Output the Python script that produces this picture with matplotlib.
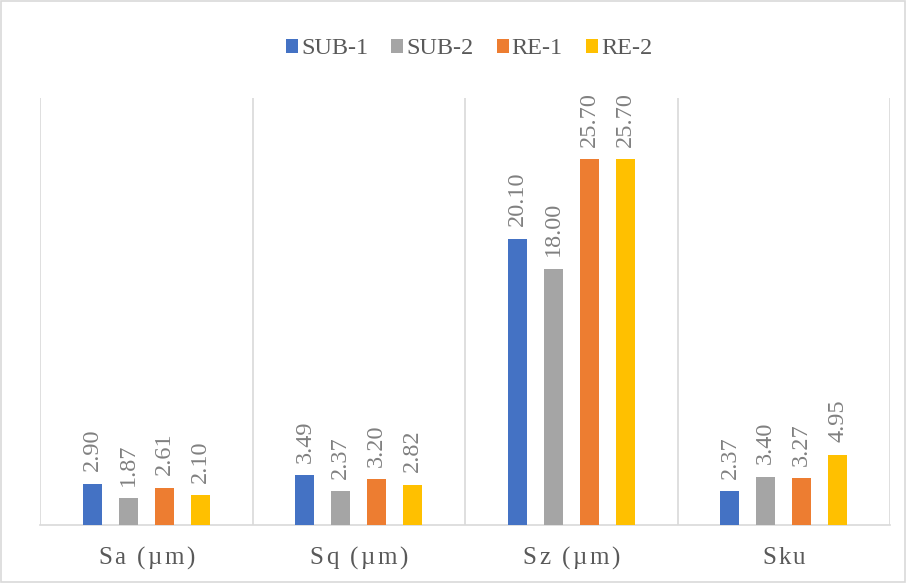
import matplotlib
matplotlib.use("Agg")
import matplotlib.pyplot as plt
import matplotlib.transforms as mtransforms
from matplotlib.patches import Rectangle
import numpy as np

categories = ["Sa (µm)", "Sq (µm)", "Sz (µm)", "Sku"]
series_names = ["SUB-1", "SUB-2", "RE-1", "RE-2"]
sub1 = [2.90, 3.49, 20.10, 2.37]
sub2 = [1.87, 2.37, 18.00, 3.40]
re1 = [2.61, 3.20, 25.70, 3.27]
re2 = [2.10, 2.82, 25.70, 4.95]
colors = ["#4472C4", "#A5A5A5", "#ED7D31", "#FFC000"]

plt.rcParams['font.family'] = ['Liberation Serif', 'DejaVu Serif']

fig = plt.figure(figsize=(9.06, 5.83), dpi=100)
ax = fig.add_axes([40/906, 1-525/583, 850/906, 427/583])

n = len(categories)
x = np.arange(n)
pitch = 0.169
width = 0.089
offsets = (np.arange(4) - 1.5) * pitch
data = [sub1, sub2, re1, re2]

for i, (vals, name, c) in enumerate(zip(data, series_names, colors)):
    bars = ax.bar(x + offsets[i], vals, width, color=c, label=name, zorder=3)
    for b, v in zip(bars, vals):
        ax.annotate(f"{v:.2f}", (b.get_x() + b.get_width()/2, v),
                    xytext=(0, 9), textcoords="offset points",
                    rotation=90, ha="center", va="bottom",
                    fontsize=17.5, color="#808080")

ax.set_xlim(-0.5, n - 0.5)
ax.set_ylim(0, 30)
ax.set_yticks([])
ax.set_xticks([])

# group separators
for xv in np.arange(-0.5, n, 1.0):
    ax.axvline(xv, color="#D9D9D9", lw=1.2, zorder=1)

for s in ["top", "left", "right"]:
    ax.spines[s].set_visible(False)
ax.spines["bottom"].set_color("#D9D9D9")
ax.spines["bottom"].set_linewidth(1.2)

# category labels with letter spacing
renderer = fig.canvas.get_renderer()
tracking = 2.5  # px between characters
label_y = -33 / 427  # axes fraction below the baseline
base_tr = mtransforms.blended_transform_factory(ax.transData, ax.transAxes)
for xi, label in zip(x, categories):
    pieces = []
    for ch in label:
        t = ax.text(xi, label_y, ch, transform=base_tr, ha="left", va="center",
                    fontsize=18, color="#595959")
        w = t.get_window_extent(renderer).width
        pieces.append((t, w))
    total = sum(w for _, w in pieces) + tracking * (len(pieces) - 1)
    pos = -total / 2
    for t, w in pieces:
        t.set_transform(base_tr + mtransforms.ScaledTranslation(pos / 100, 0, fig.dpi_scale_trans))
        pos += w + tracking

leg = fig.legend(loc="center", bbox_to_anchor=(469/906, 1-49/583), ncol=4,
                 frameon=False, fontsize=17.5, handlelength=0.5, handleheight=0.5,
                 handletextpad=0.12, columnspacing=0.95)
for t in leg.get_texts():
    t.set_color("#595959")

fig.patches.append(Rectangle((0.001, 0.001), 0.998, 0.998, transform=fig.transFigure,
                             fill=False, edgecolor="#D9D9D9", lw=1.2))

fig.savefig("out.png", dpi=100)
